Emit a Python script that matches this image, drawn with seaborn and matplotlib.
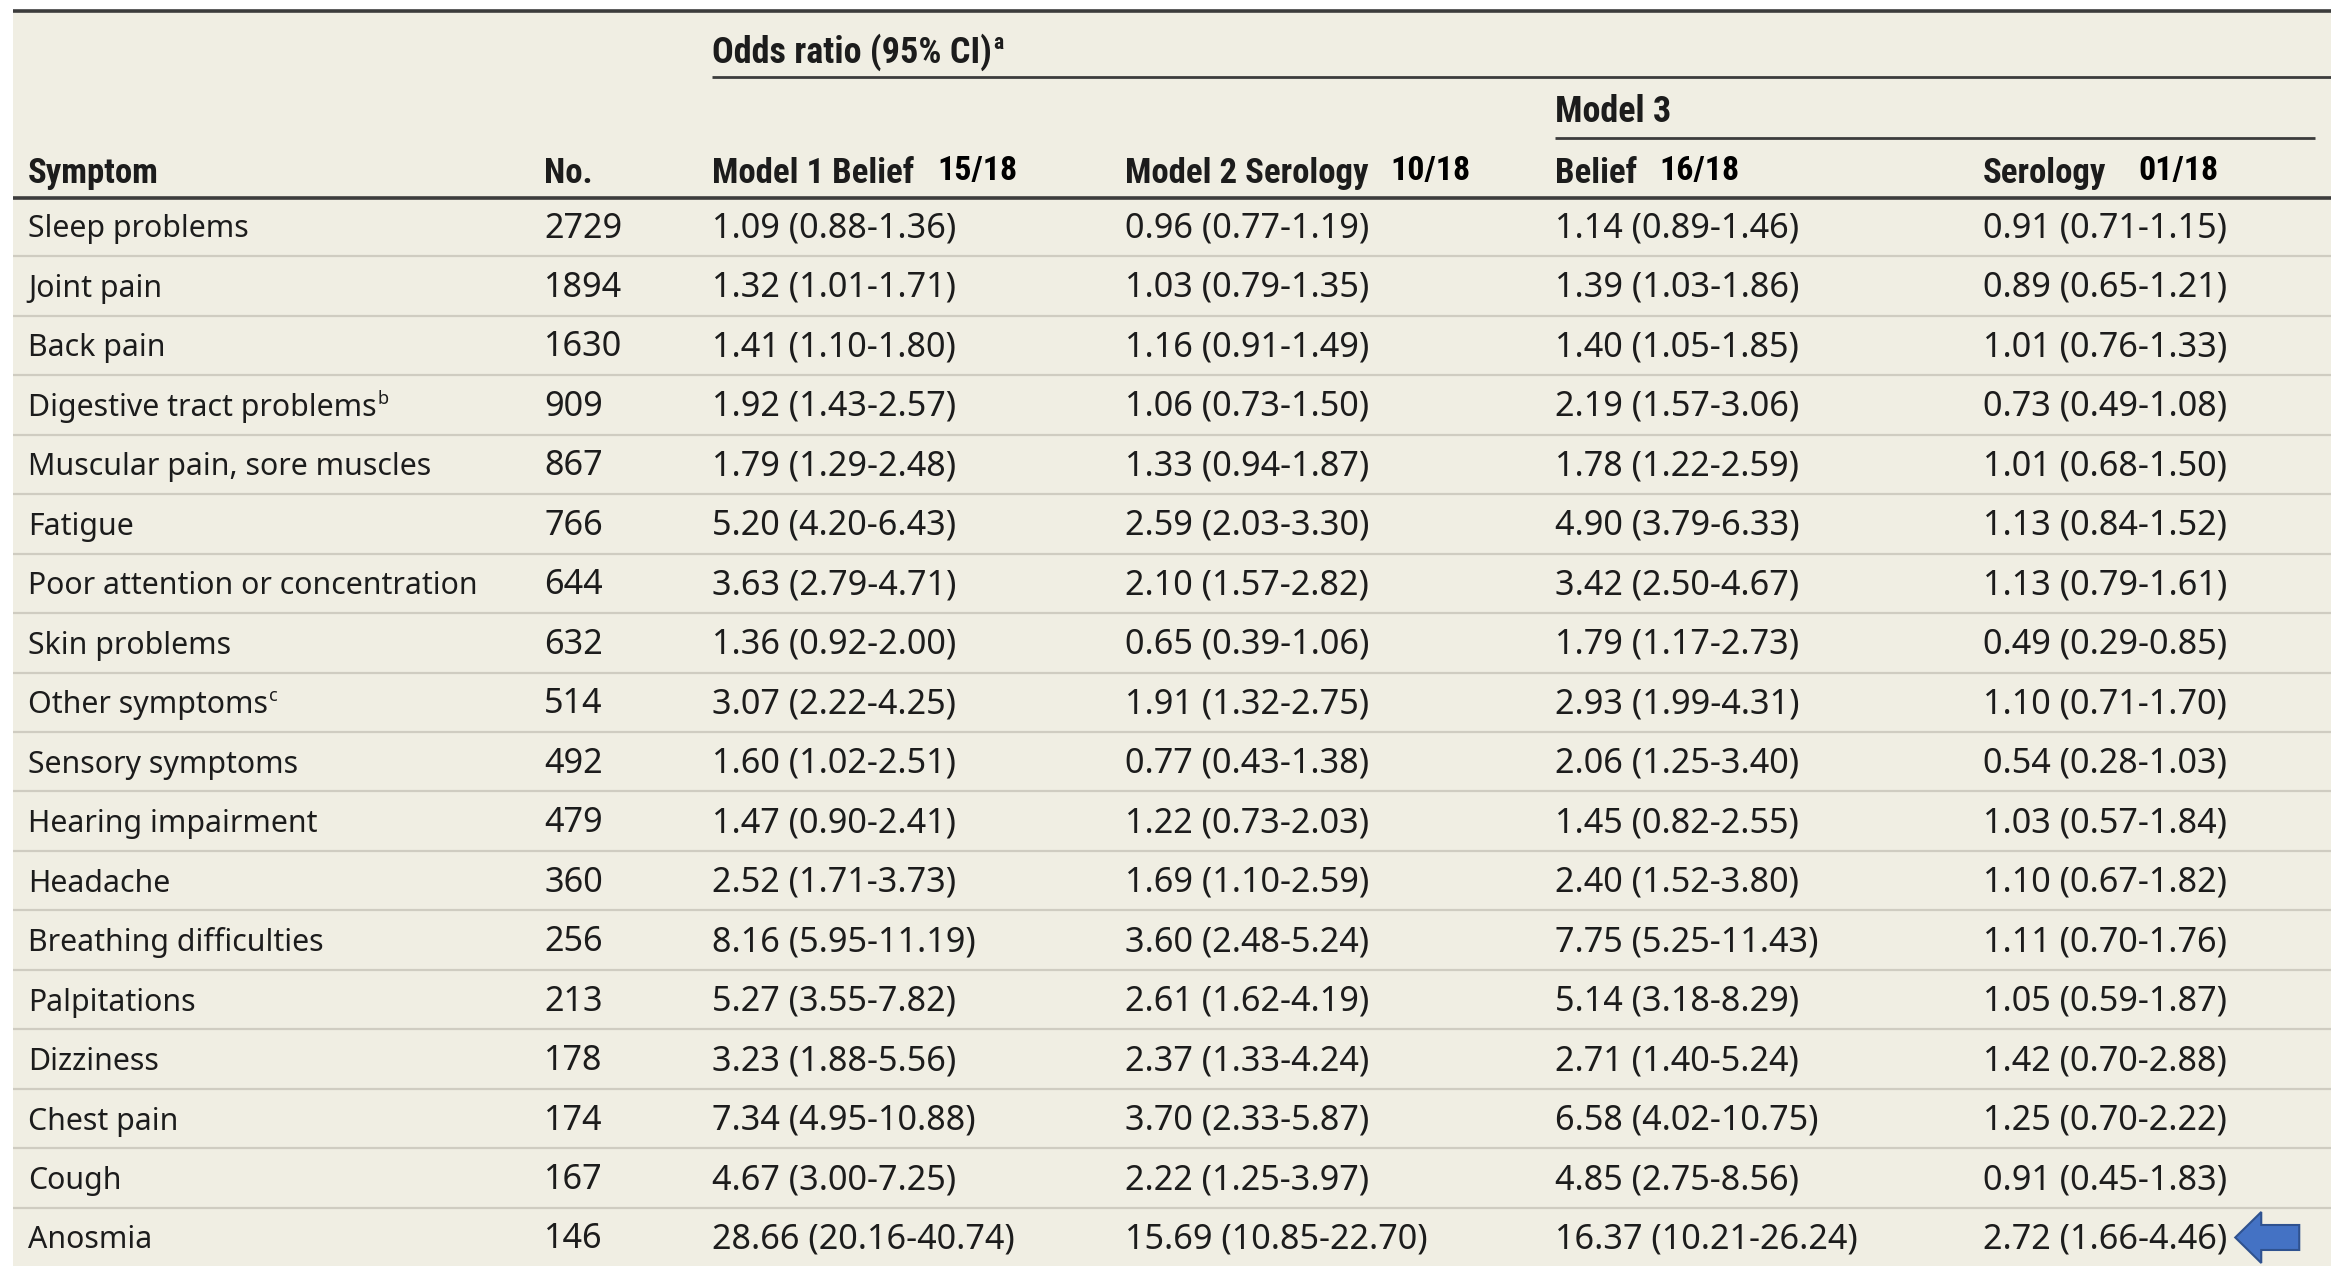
import matplotlib
matplotlib.use("Agg")
import matplotlib.pyplot as plt
from matplotlib import font_manager
from matplotlib.patches import Rectangle, FancyArrow
import seaborn as sns
import pandas as pd

# ---- table content -------------------------------------------------------
symptoms = [
    "Sleep problems", "Joint pain", "Back pain", "Digestive tract problems",
    "Muscular pain, sore muscles", "Fatigue", "Poor attention or concentration",
    "Skin problems", "Other symptoms", "Sensory symptoms", "Hearing impairment",
    "Headache", "Breathing difficulties", "Palpitations", "Dizziness",
    "Chest pain", "Cough", "Anosmia",
]
footnotes = {"Digestive tract problems": "b", "Other symptoms": "c"}
counts = [2729, 1894, 1630, 909, 867, 766, 644, 632, 514, 492, 479, 360,
          256, 213, 178, 174, 167, 146]

# odds ratio, lower and upper 95% CI bound
model1_belief = [
    (1.09, 0.88, 1.36), (1.32, 1.01, 1.71), (1.41, 1.10, 1.80), (1.92, 1.43, 2.57),
    (1.79, 1.29, 2.48), (5.20, 4.20, 6.43), (3.63, 2.79, 4.71), (1.36, 0.92, 2.00),
    (3.07, 2.22, 4.25), (1.60, 1.02, 2.51), (1.47, 0.90, 2.41), (2.52, 1.71, 3.73),
    (8.16, 5.95, 11.19), (5.27, 3.55, 7.82), (3.23, 1.88, 5.56), (7.34, 4.95, 10.88),
    (4.67, 3.00, 7.25), (28.66, 20.16, 40.74),
]
model2_serology = [
    (0.96, 0.77, 1.19), (1.03, 0.79, 1.35), (1.16, 0.91, 1.49), (1.06, 0.73, 1.50),
    (1.33, 0.94, 1.87), (2.59, 2.03, 3.30), (2.10, 1.57, 2.82), (0.65, 0.39, 1.06),
    (1.91, 1.32, 2.75), (0.77, 0.43, 1.38), (1.22, 0.73, 2.03), (1.69, 1.10, 2.59),
    (3.60, 2.48, 5.24), (2.61, 1.62, 4.19), (2.37, 1.33, 4.24), (3.70, 2.33, 5.87),
    (2.22, 1.25, 3.97), (15.69, 10.85, 22.70),
]
model3_belief = [
    (1.14, 0.89, 1.46), (1.39, 1.03, 1.86), (1.40, 1.05, 1.85), (2.19, 1.57, 3.06),
    (1.78, 1.22, 2.59), (4.90, 3.79, 6.33), (3.42, 2.50, 4.67), (1.79, 1.17, 2.73),
    (2.93, 1.99, 4.31), (2.06, 1.25, 3.40), (1.45, 0.82, 2.55), (2.40, 1.52, 3.80),
    (7.75, 5.25, 11.43), (5.14, 3.18, 8.29), (2.71, 1.40, 5.24), (6.58, 4.02, 10.75),
    (4.85, 2.75, 8.56), (16.37, 10.21, 26.24),
]
model3_serology = [
    (0.91, 0.71, 1.15), (0.89, 0.65, 1.21), (1.01, 0.76, 1.33), (0.73, 0.49, 1.08),
    (1.01, 0.68, 1.50), (1.13, 0.84, 1.52), (1.13, 0.79, 1.61), (0.49, 0.29, 0.85),
    (1.10, 0.71, 1.70), (0.54, 0.28, 1.03), (1.03, 0.57, 1.84), (1.10, 0.67, 1.82),
    (1.11, 0.70, 1.76), (1.05, 0.59, 1.87), (1.42, 0.70, 2.88), (1.25, 0.70, 2.22),
    (0.91, 0.45, 1.83), (2.72, 1.66, 4.46),
]

column_titles = ["Symptom", "No.", "Model 1 Belief", "Model 2 Serology", "Belief", "Serology"]
column_tags = [None, None, "15/18", "10/18", "16/18", "01/18"]
group_title = "Odds ratio (95% CI)"
subgroup_title = "Model 3"
highlight_row = "Anosmia"
highlight_col = 5


def fmt(v):
    return f"{v[0]:.2f} ({v[1]:.2f}-{v[2]:.2f})"


table = pd.DataFrame({
    "Symptom": symptoms,
    "No.": [str(c) for c in counts],
    "Model 1 Belief": [fmt(v) for v in model1_belief],
    "Model 2 Serology": [fmt(v) for v in model2_serology],
    "Belief": [fmt(v) for v in model3_belief],
    "Serology": [fmt(v) for v in model3_serology],
})

# ---- styling -------------------------------------------------------------
sns.set_theme(style="white")


def pick(families):
    for fam in families:
        try:
            font_manager.findfont(font_manager.FontProperties(family=fam),
                                  fallback_to_default=False)
            return fam
        except Exception:
            continue
    return "DejaVu Sans"


BODY_FONT = pick(["Noto Sans", "Open Sans", "DejaVu Sans"])
HEAD_FONT = pick(["Liberation Sans Narrow", "Roboto Condensed", "Noto Sans"])
plt.rcParams["font.family"] = [BODY_FONT, "DejaVu Sans"]

BG = "#f0eee3"
INK = "#1c1c1c"
RULE = "#3c3c3c"
SEP = "#cfccc1"

W, H = 2331, 1266
fig = plt.figure(figsize=(W / 100, H / 100), dpi=100)
fig.patch.set_facecolor("white")
ax = fig.add_axes([0, 0, 1, 1])
ax.set_xlim(0, W)
ax.set_ylim(H, 0)
ax.axis("off")

left = 13
ax.add_patch(Rectangle((left, 10), W - left, H - 10, facecolor=BG, edgecolor="none", zorder=0))

col_x = [28, 544, 712, 1125, 1555, 1983]
row0, row_step = 226.5, 59.47
header_base = 183
label_size = 21.8
number_size = 24.6
head_size = 25
group_size = 26
tag_size = 24.5

renderer = fig.canvas.get_renderer()


def right_edge(txt):
    bb = txt.get_window_extent(renderer=renderer)
    return ax.transData.inverted().transform((bb.x1, bb.y0))[0]


def add_super(txt, mark, size):
    y = txt.get_position()[1]
    ax.text(right_edge(txt) + 1, y - size * 0.55, mark, fontsize=size * 0.6,
            fontfamily=txt.get_fontfamily(), fontweight=txt.get_fontweight(),
            color=INK, va="baseline", ha="left")


# rules
ax.hlines(11, left, W, color=RULE, lw=2.6, zorder=2)
ax.hlines(77, col_x[2], W, color=RULE, lw=2.0, zorder=2)
ax.hlines(138, col_x[4], 2315, color=RULE, lw=2.0, zorder=2)
ax.hlines(198, left, W, color=RULE, lw=2.6, zorder=2)

# group headers
g = ax.text(col_x[2], 63, group_title, fontsize=group_size, fontfamily=HEAD_FONT,
            fontweight="bold", color=INK, va="baseline")
add_super(g, "a", group_size)
ax.text(col_x[4], 122, subgroup_title, fontsize=group_size, fontfamily=HEAD_FONT,
        fontweight="bold", color=INK, va="baseline")

# column headers
tag_x = {2: 937, 3: 1390, 4: 1659, 5: 2138}
for j, (title, tag) in enumerate(zip(column_titles, column_tags)):
    ax.text(col_x[j], header_base, title, fontsize=head_size, fontfamily=HEAD_FONT,
            fontweight="bold", color=INK, va="baseline")
    if tag:
        ax.text(tag_x[j], header_base - 3, tag, fontsize=tag_size, fontfamily=HEAD_FONT,
                fontweight="bold", color="black", va="baseline")

# body rows
for i, row in table.iterrows():
    yc = row0 + i * row_step
    for j, col in enumerate(table.columns):
        size = label_size if j == 0 else number_size
        t = ax.text(col_x[j], yc + 11, row[col], fontsize=size, color=INK,
                    va="baseline", ha="left")
        if j == 0 and row[col] in footnotes:
            add_super(t, footnotes[row[col]], size)
        if row["Symptom"] == highlight_row and j == highlight_col:
            x0 = right_edge(t) + 72
            ax.add_patch(FancyArrow(x0, yc, -64, 0, width=25, head_width=51,
                                    head_length=26, length_includes_head=True,
                                    facecolor="#4472c4", edgecolor="#2f528f",
                                    lw=1.5, zorder=3))
    if i < len(table) - 1:
        ax.hlines(yc + row_step / 2, left, W, color=SEP, lw=1.6, zorder=1)

fig.savefig("out.png", dpi=100, facecolor=fig.get_facecolor())
